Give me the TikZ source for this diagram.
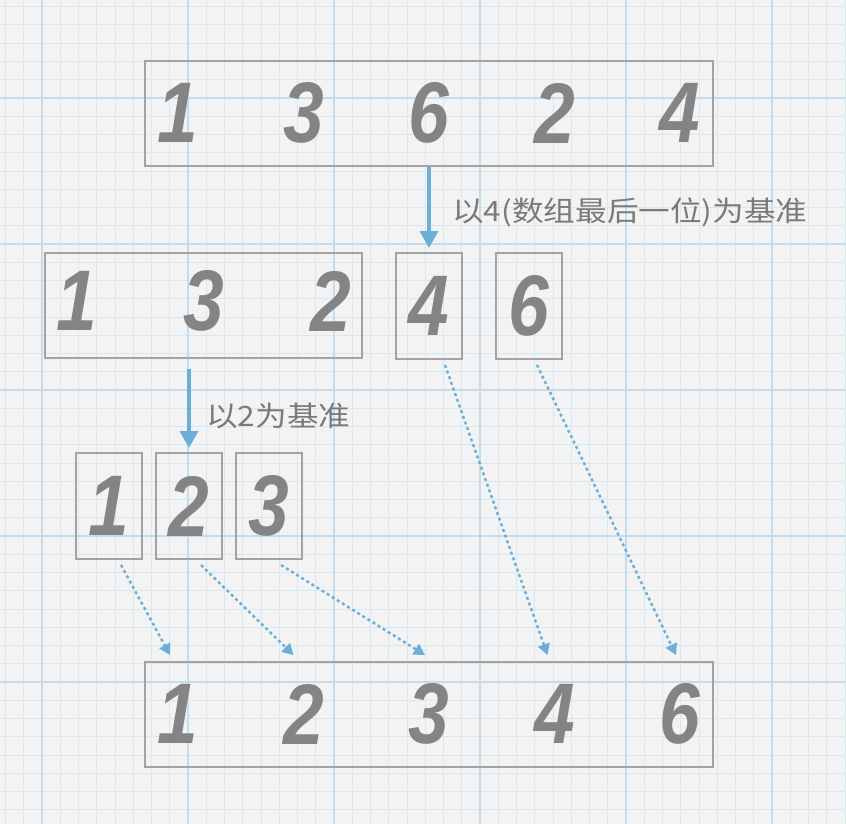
\documentclass[tikz,border=0pt]{standalone}
\usepackage{fontspec}
\usepackage{tikz}
\usetikzlibrary{arrows.meta,calc}
\setmainfont{Liberation Sans}
\newfontfamily\digitfont{Liberation Sans}[FakeStretch=0.85]
\newfontfamily\cjk{Noto Sans CJK SC}[FakeStretch=1.13]
\definecolor{paper}{HTML}{F3F3F3}
\definecolor{gridminor}{HTML}{D6E8F4}
\definecolor{gridmajor}{HTML}{C3DDEF}
\definecolor{boxgray}{HTML}{A3A3A3}
\definecolor{numgray}{HTML}{848484}
\definecolor{textgray}{HTML}{7A7A7A}
\definecolor{arrowblue}{HTML}{6CAED6}

\begin{document}
\begin{tikzpicture}[x=1pt,y=-1pt,
  box/.style={draw=boxgray,line width=2pt,inner sep=0pt},
  num/.style={text=numgray,inner sep=0pt,font=\digitfont\fontsize{86}{86}\selectfont\bfseries\itshape},
  note/.style={text=textgray,inner sep=0pt,anchor=west,font=\cjk\fontsize{28}{28}\selectfont},
  pivot/.style={draw=arrowblue,line width=4pt,-{Triangle[width=18pt,length=17pt]},shorten >=4pt},
  moved/.style={draw=arrowblue,line width=2.4pt,dash pattern=on 3pt off 3pt,-{Triangle[width=12pt,length=11pt]}}]
\useasboundingbox (0,0) rectangle (846,824);
% paper
\fill [paper] (0,0) rectangle (846,824);
\foreach \i in {0,...,46}
  \draw [gridminor,line width=1pt] ({5.5+18.25*\i},0) -- ({5.5+18.25*\i},824);
\foreach \i in {0,...,45}
  \draw [gridminor,line width=1pt] (0,{6.75+18.25*\i}) -- (846,{6.75+18.25*\i});
\foreach \i in {0,...,5}
  \draw [gridmajor,line width=1.6pt] ({42+146*\i},0) -- ({42+146*\i},824);
\foreach \i in {0,...,4}
  \draw [gridmajor,line width=1.6pt] (0,{98+146*\i}) -- (846,{98+146*\i});

% array 1 3 6 2 4
\node [box,minimum width=568pt,minimum height=105pt] (arr) at (429,113.5) {};
\foreach \d [count=\i] in {1,3,6,2,4}
  \node [num] (a\i) at ({429+(\i-3)*125.5},113) {\d};

% first split
\node [box,minimum width=317pt,minimum height=105pt] (left) at (203.5,305.5) {};
\foreach \d [count=\i] in {1,3,2}
  \node [num] (l\i) at ({203.5+(\i-2)*127},301) {\d};
\node [box,num,minimum width=66pt,minimum height=106pt] (p4) at (429,306) {4};
\node [box,num,minimum width=66pt,minimum height=106pt] (p6) at (529,306) {6};
\draw [pivot] (arr.south) -- (p4.north);
\node [note] (cap1) at (452,212) {以4(数组最后一位)为基准};

% second split
\node [box,num,minimum width=66pt,minimum height=106pt] (c1) at (109,506) {1};
\node [box,num,minimum width=66pt,minimum height=106pt] (c2) at (189,506) {2};
\node [box,num,minimum width=66pt,minimum height=106pt] (c3) at (269,506) {3};
\draw [pivot,shorten <=10pt] (left.south -| c2.north) -- (c2.north);
\node [note] (cap2) at (206,416) {以2为基准};

% sorted
\node [box,minimum width=568pt,minimum height=105pt] (bottom) at (429,714.5) {};
\foreach \d [count=\i] in {1,2,3,4,6}
  \node [num] (f\i) at ({429+(\i-3)*125.5},714) {\d};

\foreach \s/\dx/\t/\ex in {c1/12/f1/-8,c2/12/f2/-10,c3/12/f3/-4,p4/16/f4/-7,p6/8/f5/-4}
  \draw [moved] ([xshift=\dx pt,yshift=-5pt]\s.south) -- ($(bottom.north -| \t)+(\ex,-6)$);
\end{tikzpicture}
\end{document}
